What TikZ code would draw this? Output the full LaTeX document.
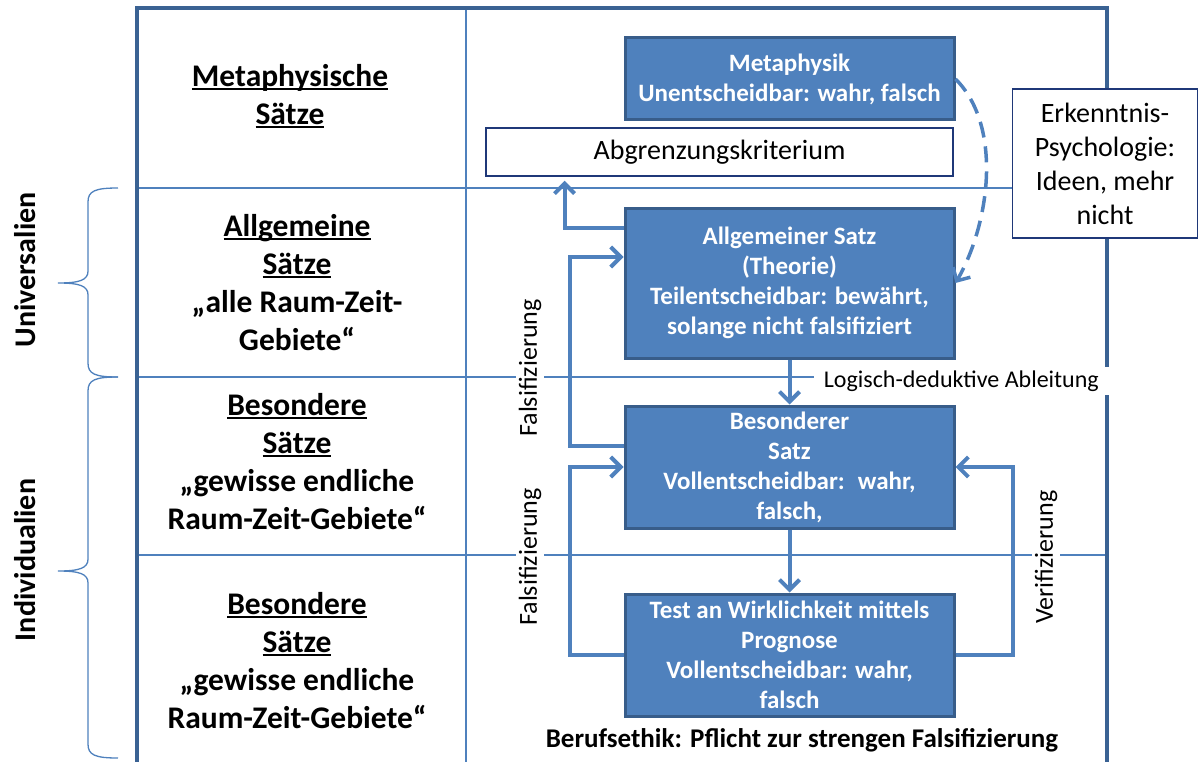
\documentclass[tikz,border=0pt]{standalone}
\usepackage{fontspec}
\setmainfont{Carlito}
\usetikzlibrary{arrows.meta}
\definecolor{boxblue}{RGB}{79,129,189}
\definecolor{boxedge}{RGB}{56,93,138}
\definecolor{framec}{RGB}{58,98,147}
\definecolor{navy}{RGB}{31,56,120}
\newcommand{\unterstr}[1]{\setbox0\hbox{#1}\rlap{\rule[-3.5pt]{\wd0}{2pt}}\box0}

\begin{document}
\begin{tikzpicture}[x=1pt,y=-1pt,
	box/.style={draw=boxedge, line width=3pt, fill=boxblue, text=white, minimum width=329pt,
		align=center, inner sep=0pt, font=\bfseries\fontsize{25}{30}\selectfont},
	plain/.style={draw=navy, line width=1.5pt, fill=white, align=center, inner sep=0pt,
		font=\fontsize{28}{34}\selectfont},
	satz/.style={align=center, font=\bfseries\fontsize{31.5}{38}\selectfont},
	lbl/.style={fill=white, rotate=90, inner sep=3pt, font=\fontsize{26}{30}\selectfont},
	grid/.style={draw=boxblue, line width=2pt},
	arr/.style={draw=boxblue, line width=4pt, -{Straight Barb[length=10pt,width=20pt]}}]
	\useasboundingbox (0,0) rectangle (1198,762);

	% raster
	\foreach \y in {188,377,555} {
		\draw[grid] (137,\y) -- (1107,\y);
	}
	\draw[grid] (466,8) -- (466,762);
	\draw[draw=framec, line width=3.5pt] (137,762) -- (137,8) -- (1107,8) -- (1107,762);

	% klammern
	\foreach \a/\m/\b in {188/283/377, 377/571/758} {
		\draw[boxblue, line width=1.3pt] (118,\a) .. controls (95,\a) and (88,\a+3) .. (88,\a+14)
			-- (88,\m-12) .. controls (88,\m-3) and (80,\m) .. (58,\m)
			.. controls (80,\m) and (88,\m+3) .. (88,\m+12)
			-- (88,\b-14) .. controls (88,\b-3) and (95,\b) .. (118,\b);
	}
	\node[rotate=90, font=\bfseries\fontsize{30}{36}\selectfont] (univ) at (25,270) {Universalien};
	\node[rotate=90, font=\bfseries\fontsize{30}{36}\selectfont] (indiv) at (25,560) {Individualien};

	% saetze
	\node[satz] (metas) at (290,96) {\unterstr{Metaphysische}\\\unterstr{Sätze}};
	\node[satz] (allgs) at (297,283) {\unterstr{Allgemeine}\\\unterstr{Sätze}\\„alle Raum-Zeit-\\Gebiete“};
	\node[satz] (bes1) at (297,462) {\unterstr{Besondere}\\\unterstr{Sätze}\\„gewisse endliche\\Raum-Zeit-Gebiete“};
	\node[satz] (bes2) at (297,661) {\unterstr{Besondere}\\\unterstr{Sätze}\\„gewisse endliche\\Raum-Zeit-Gebiete“};

	% kaesten
	\node[box, minimum height=82pt] (meta) at (789.5,79) {Metaphysik\\Unentscheidbar: wahr, falsch};
	\node[plain, minimum width=467pt, minimum height=48pt] (abgr) at (719.5,152) {Abgrenzungskriterium};
	\node[box, minimum height=150pt] (allg) at (789.5,283) {Allgemeiner Satz\\(Theorie)\\Teilentscheidbar: bewährt,\\solange nicht falsifiziert};
	\node[box, minimum height=122pt] (bes) at (789.5,467) {Besonderer\\Satz\\Vollentscheidbar:~ wahr,\\falsch,};
	\node[box, minimum height=122pt] (test) at (789.5,655) {Test an Wirklichkeit mittels\\Prognose\\Vollentscheidbar: wahr,\\falsch};
	\node[plain, minimum width=185pt, minimum height=149pt] (erk) at (1105,163.5) {Erkenntnis-\\Psychologie:\\Ideen, mehr\\nicht};

	% beschriftung
	\node[lbl] (fals1) at (530,368) {Falsifizierung};
	\node[lbl] (fals2) at (530,557) {Falsifizierung};
	\node[lbl] (verif) at (1046,557) {Verifizierung};
	\node[fill=white, anchor=east, inner xsep=10pt, inner ysep=4pt, font=\fontsize{24}{28}\selectfont] (ableit) at (1109,381) {Logisch-deduktive Ableitung};
	\node[font=\bfseries\fontsize{27}{30}\selectfont] (ethik) at (802,740) {Berufsethik: Pflicht zur strengen Falsifizierung};

	% pfeile
	\draw[arr] ([yshift=55pt]allg.west) -| ([xshift=-155pt,yshift=-4pt]abgr.south);
	\draw[arr] ([yshift=21pt]bes.west) -- ++(-54,0) |- ([yshift=26pt]allg.west);
	\draw[arr] (test.west) -- ++(-54,0) |- (bes.west);
	\draw[arr] (test.east) -- ++(57,0) |- (bes.east);
	\draw[arr] (allg.south) -- (bes.north);
	\draw[arr] (bes.south) -- (test.north);
	\draw[arr, line width=3.5pt, dash pattern=on 16pt off 9pt] (meta.east) to[out=-45, in=60, looseness=0.85] (allg.east);
\end{tikzpicture}
\end{document}
